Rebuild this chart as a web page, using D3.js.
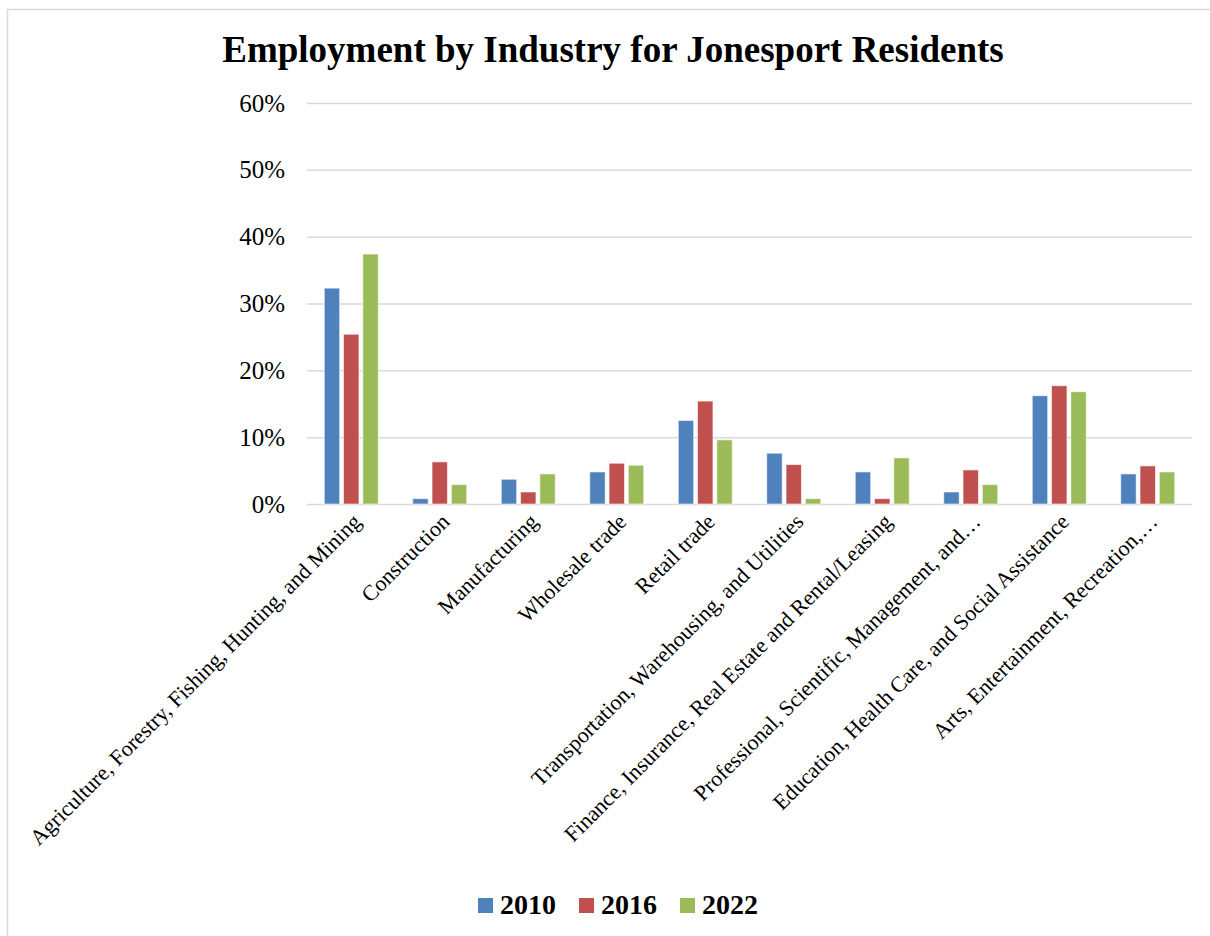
<!DOCTYPE html>
<html>
<head>
<meta charset="utf-8">
<script src="https://cdn.jsdelivr.net/npm/d3@7"></script>
<style>
  html, body { margin: 0; padding: 0; background: #fff; }
  svg { display: block; font-family: "Liberation Serif", "Times New Roman", serif; }
</style>
</head>
<body>
<div id="chart"></div>
<script>
const categories = [
  'Agriculture, Forestry, Fishing, Hunting, and Mining',
  'Construction',
  'Manufacturing',
  'Wholesale trade',
  'Retail trade',
  'Transportation, Warehousing, and Utilities',
  'Finance, Insurance, Real Estate and Rental/Leasing',
  'Professional, Scientific, Management, and\u2026',
  'Education, Health Care, and Social Assistance',
  'Arts, Entertainment, Recreation,\u2026',
];
const years = ['2010', '2016', '2022'];
const values2010 = [0.323, 0.008, 0.037, 0.048, 0.125, 0.076, 0.048, 0.018, 0.162, 0.045];
const values2016 = [0.254, 0.063, 0.018, 0.061, 0.154, 0.059, 0.008, 0.051, 0.177, 0.057];
const values2022 = [0.374, 0.029, 0.045, 0.058, 0.096, 0.008, 0.069, 0.029, 0.168, 0.048];
const yTicks = [0, 0.1, 0.2, 0.3, 0.4, 0.5, 0.6];
const colors = ['#4F81BD', '#C0504D', '#9BBB59'];

const series = [values2010, values2016, values2022];

const width = 1210,
  height = 936,
  margin = { top: 103, right: 18, bottom: 432, left: 307 };

const svg = d3.select('#chart')
  .append('svg')
  .attr('width', width)
  .attr('height', height);

// outer chart border
svg.append('rect')
  .attr('x', 7.5)
  .attr('y', 9.5)
  .attr('width', width)
  .attr('height', height)
  .attr('fill', 'none')
  .attr('stroke', '#d9d9d9')
  .attr('stroke-width', 1.5);

const x = d3.scaleBand()
  .domain(categories)
  .range([margin.left, width - margin.right]);

const groupWidth = 54;
const xSub = d3.scaleBand()
  .domain(years)
  .range([0, groupWidth])
  .paddingInner(0.2);

const y = d3.scaleLinear()
  .domain([0, 0.6])
  .range([height - margin.bottom, margin.top]);

// gridlines + y labels
const yAxis = svg.append('g')
  .attr('transform', `translate(${margin.left},0)`)
  .call(d3.axisLeft(y)
    .tickValues(yTicks)
    .tickSize(-(width - margin.left - margin.right))
    .tickPadding(22)
    .tickFormat(d3.format('.0%')));

yAxis.select('.domain').remove();
yAxis.selectAll('.tick line')
  .attr('stroke', '#d9d9d9')
  .attr('stroke-width', 1.5);
yAxis.selectAll('.tick text')
  .attr('fill', '#000')
  .style('font-size', '25px')
  .style('font-family', '"Liberation Serif", "Times New Roman", serif');

// bars
const groups = svg.append('g')
  .selectAll('g')
  .data(categories)
  .join('g')
  .attr('transform', (d) => `translate(${x(d) + (x.bandwidth() - groupWidth) / 2},0)`);

groups.selectAll('rect')
  .data((d, i) => years.map((yr, j) => ({ year: yr, value: series[j][i], idx: j })))
  .join('rect')
  .attr('x', (d) => xSub(d.year))
  .attr('y', (d) => y(d.value))
  .attr('width', xSub.bandwidth())
  .attr('height', (d) => y(0) - y(d.value))
  .attr('fill', (d) => colors[d.idx])
  .attr('stroke', '#fff')
  .attr('stroke-opacity', 0.6)
  .attr('stroke-width', 1);

// x labels, rotated
svg.append('g')
  .selectAll('text')
  .data(categories)
  .join('text')
  .attr('transform', (d) => `translate(${x(d) + x.bandwidth() / 2 + 11},${y(0) + 19}) rotate(-45)`)
  .attr('text-anchor', 'end')
  .style('font-size', '22px')
  .text((d) => d);

// title
svg.append('text')
  .attr('x', 613)
  .attr('y', 62)
  .attr('text-anchor', 'middle')
  .style('font-size', '37px')
  .style('font-weight', 'bold')
  .text('Employment by Industry for Jonesport Residents');

// legend
const legend = svg.append('g')
  .attr('transform', 'translate(478,898)');

const item = legend.selectAll('g')
  .data(years)
  .join('g')
  .attr('transform', (d, i) => `translate(${i * 101},0)`);

item.append('rect')
  .attr('width', 15)
  .attr('height', 15)
  .attr('fill', (d, i) => colors[i]);

item.append('text')
  .attr('x', 22)
  .attr('y', 16)
  .style('font-size', '28px')
  .style('font-weight', 'bold')
  .text((d) => d);
</script>
</body>
</html>
